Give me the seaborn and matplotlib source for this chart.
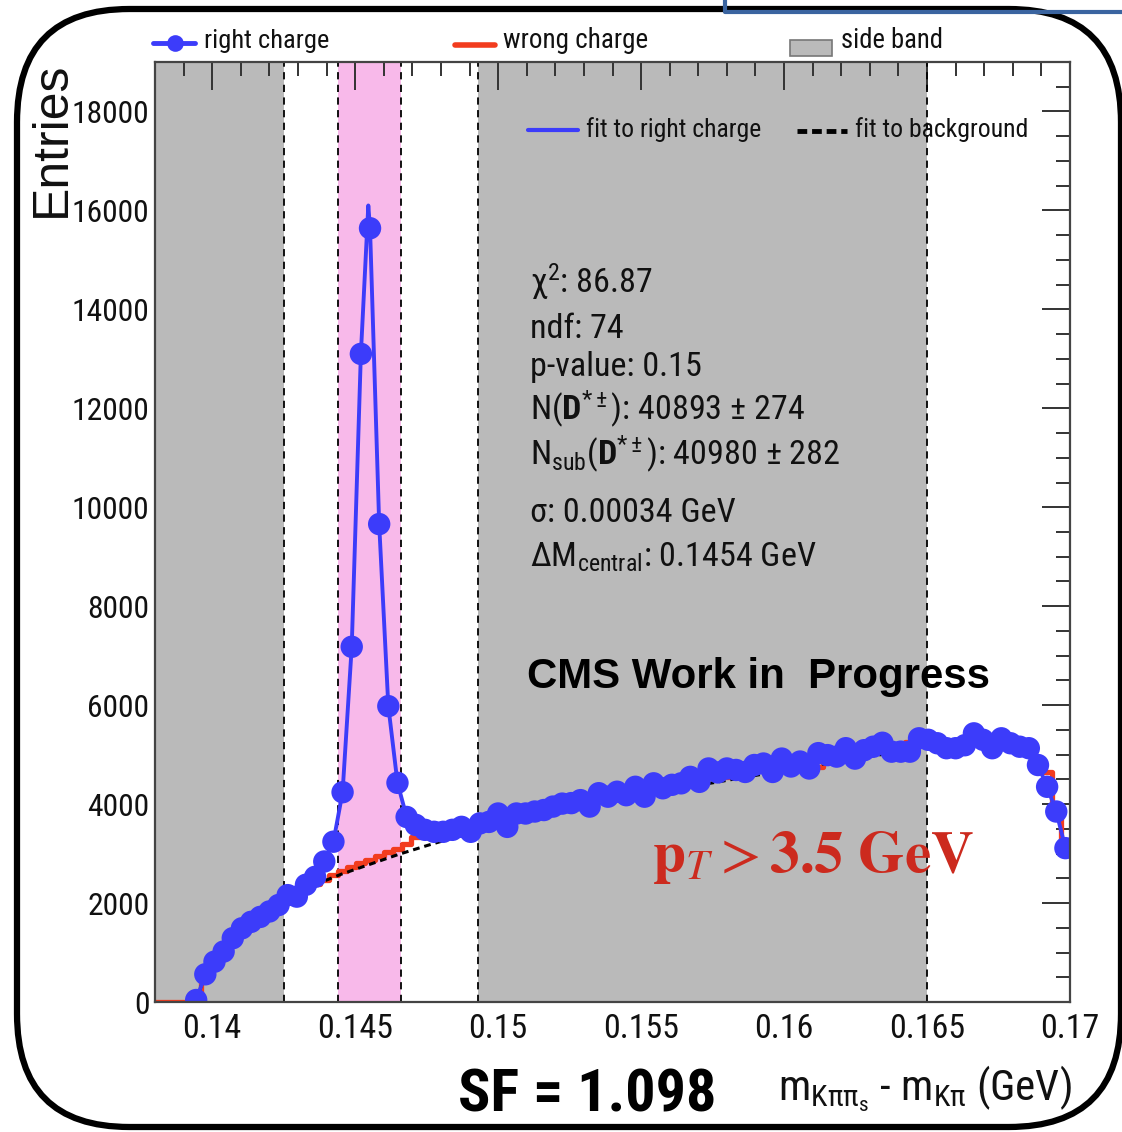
import numpy as np
import pandas as pd
import matplotlib
matplotlib.use("Agg")
import matplotlib.pyplot as plt
import seaborn as sns
from matplotlib import font_manager as fm
from matplotlib.lines import Line2D
from matplotlib.patches import FancyBboxPatch, Rectangle
from matplotlib.ticker import MultipleLocator, FixedLocator

# ---------------- data ----------------
BIN_LO, BIN_HI, N_BINS = 0.138, 0.170, 100
FIRST_BLUE_BIN = 4

right_charge = [40, 560, 815, 1020, 1290, 1490, 1620, 1720, 1830, 1960,
                2160, 2130, 2370, 2530, 2840, 3240, 4240, 7180, 13100, 15640,
                9660, 5980, 4430, 3740, 3580, 3480, 3440, 3440, 3480, 3540,
                3440, 3610, 3640, 3810, 3540, 3810, 3810, 3850, 3880, 3950,
                4010, 4020, 4080, 3950, 4220, 4150, 4250, 4180, 4350, 4150,
                4420, 4320, 4390, 4420, 4550, 4450, 4720, 4640, 4720, 4690,
                4650, 4790, 4820, 4650, 4920, 4760, 4860, 4720, 5030, 4990,
                4960, 5130, 4920, 5090, 5160, 5240, 5060, 5060, 5060, 5330,
                5300, 5230, 5130, 5130, 5190, 5430, 5300, 5130, 5330, 5230,
                5160, 5130, 4790, 4350, 3850, 3110]

wrong_charge = [0, 0, 0, 0, 0, 520, 800, 1050, 1300, 1480,
                1600, 1730, 1840, 1960, 2080, 2150, 2290, 2380, 2470, 2560,
                2650, 2730, 2800, 2870, 2950, 3030, 3100, 3200, 3330, 3400,
                3440, 3480, 3500, 3560, 3500, 3600, 3650, 3760, 3620, 3780,
                3830, 3840, 3900, 3930, 4000, 4030, 4100, 4200, 4200, 4180,
                4240, 4200, 4330, 4250, 4400, 4340, 4380, 4430, 4500, 4560,
                4600, 4650, 4550, 4620, 4680, 4760, 4850, 4700, 4880, 4930,
                4830, 4650, 4750, 4980, 4950, 4900, 4950, 5050, 5150, 5200,
                5100, 5150, 5250, 5300, 5280, 5250, 5230, 5250, 5300, 5280,
                5250, 5200, 5250, 5200, 5150, 5100, 4850, 4650, 3950, 3050]

# fit to background
bkg_fit_x = [0.13950, 0.13960, 0.13980, 0.14000, 0.14030, 0.14070, 0.14120,
             0.14180, 0.14250, 0.14350, 0.14450, 0.14550, 0.14650, 0.14750,
             0.14850, 0.14950, 0.15100, 0.15300, 0.15500, 0.15750, 0.16000,
             0.16250, 0.16450, 0.16600, 0.16750, 0.16850]
bkg_fit_y = [0, 300, 580, 820, 1100, 1380, 1640, 1880, 2100, 2350, 2580,
             2780, 2980, 3160, 3330, 3480, 3700, 3950, 4180, 4430, 4680,
             4920, 5100, 5200, 5230, 5150]

# maximum of the signal fit
peak_fit_x = 0.14546
peak_fit_y = 16100

side_bands = [(0.138, 0.1425), (0.1493, 0.165)]
signal_window = (0.1444, 0.1466)

x_ticks = [0.14, 0.145, 0.15, 0.155, 0.16, 0.165, 0.17]
x_tick_labels = ["0.14", "0.145", "0.15", "0.155", "0.16", "0.165", "0.17"]
y_ticks = [0, 2000, 4000, 6000, 8000, 10000, 12000, 14000, 16000, 18000]
y_tick_labels = ["0", "2000", "4000", "6000", "8000", "10000", "12000",
                 "14000", "16000", "18000"]

stats_lines = [
    "χ$^{2}$: 86.87",
    "ndf: 74",
    "p-value: 0.15",
    r"N($\mathbf{D}^{*\pm}$): 40893 ± 274",
    r"N$_{\mathrm{sub}}$($\mathbf{D}^{*\pm}$): 40980 ± 282",
    "σ: 0.00034 GeV",
    r"ΔM$_{\mathrm{central}}$: 0.1454 GeV",
]

# ---------------- fonts ----------------
sns.set_style("white")
entries = fm.fontManager.ttflist
names = {f.name for f in entries}
REG = "Liberation Sans" if "Liberation Sans" in names else "DejaVu Sans"


def find_condensed():
    prefs = ["Liberation Sans Narrow", "Roboto Condensed", "Open Sans Condensed",
             "Noto Sans Condensed", "Noto Sans", "DejaVu Sans", "Roboto",
             "Open Sans", "Inter", "Lato"]
    cands = []
    for f in entries:
        st = str(f.stretch).lower()
        is_cond = ("condensed" in st or "narrow" in st or "Narrow" in f.name
                   or "Condensed" in f.name)
        if is_cond and f.style == "normal":
            cands.append(f)
    for p in prefs:
        for f in cands:
            if f.name == p:
                return f.name, str(f.stretch)
    if cands:
        return cands[0].name, str(cands[0].stretch)
    return REG, "normal"


NARROW, NSTRETCH = find_condensed()
plt.rcParams["font.family"] = [NARROW, "DejaVu Sans"]
plt.rcParams["font.stretch"] = NSTRETCH
pat = NARROW + (":stretch=" + NSTRETCH if NSTRETCH != "normal" else "")
plt.rcParams["mathtext.fontset"] = "custom"
plt.rcParams["mathtext.rm"] = pat
plt.rcParams["mathtext.it"] = pat + ":italic"
plt.rcParams["mathtext.bf"] = pat + ":bold"
plt.rcParams["mathtext.sf"] = pat

BLUE = "#3c3cfa"
RED = "#f23c1e"
GREY = "#bababa"
PINK = "#f8b9ea"
AXC = "#333333"
TXT = "#111111"

W, H = 1122, 1132
fig = plt.figure(figsize=(W / 100, H / 100), dpi=100)
fig.patch.set_facecolor("white")


def fx(px):
    return px / W


def fy(py):
    return 1 - py / H


ax = fig.add_axes([fx(155), fy(1002), fx(1070) - fx(155), fy(62) - fy(1002)])
ax.set_facecolor("white")

# bands
for lo, hi in side_bands:
    ax.axvspan(lo, hi, color=GREY, lw=0, zorder=0)
ax.axvspan(signal_window[0], signal_window[1], color=PINK, lw=0, zorder=0)
for xv in [side_bands[0][1], signal_window[0], signal_window[1],
           side_bands[1][0], side_bands[1][1]]:
    ax.axvline(xv, color="black", lw=1.3, dashes=(4, 3), zorder=1)

# histogram binning
edges = np.linspace(BIN_LO, BIN_HI, N_BINS + 1)
centers = 0.5 * (edges[:-1] + edges[1:])

# wrong charge histogram (steps)
red_df = pd.DataFrame({"x": edges, "y": wrong_charge + [wrong_charge[-1]]})
sns.lineplot(data=red_df, x="x", y="y", drawstyle="steps-post", color=RED,
             lw=3.8, ax=ax, zorder=3, sort=False, estimator=None)

# background fit
bkg_df = pd.DataFrame({"x": bkg_fit_x, "y": bkg_fit_y})
sns.lineplot(data=bkg_df, x="x", y="y", color="black", lw=2.2,
             linestyle=(0, (2.2, 1.6)), ax=ax, zorder=4, sort=False, estimator=None)

# right charge points
blue_x = centers[FIRST_BLUE_BIN:FIRST_BLUE_BIN + len(right_charge)]
blue_df = pd.DataFrame({"x": blue_x, "y": right_charge})
sns.scatterplot(data=blue_df, x="x", y="y", color=BLUE, s=260, marker="o",
                edgecolor="none", ax=ax, zorder=5)

# signal fit line: through the points, with the fitted maximum
ins = int(np.searchsorted(blue_x, peak_fit_x))
fit_x = list(blue_x[:ins]) + [peak_fit_x] + list(blue_x[ins:])
fit_y = right_charge[:ins] + [peak_fit_y] + right_charge[ins:]
fit_df = pd.DataFrame({"x": fit_x, "y": fit_y})
sns.lineplot(data=fit_df, x="x", y="y", color=BLUE, lw=2.8, ax=ax, zorder=5.5,
             sort=False, estimator=None)

# axes
ax.set_xlim(BIN_LO, BIN_HI)
ax.set_ylim(0, 19000)
ax.set_xlabel("")
ax.set_ylabel("")
ax.xaxis.set_major_locator(FixedLocator(x_ticks))
ax.set_xticklabels(x_tick_labels)
ax.yaxis.set_major_locator(FixedLocator(y_ticks))
ax.set_yticklabels(y_tick_labels)
ax.xaxis.set_minor_locator(MultipleLocator(0.001))
ax.yaxis.set_minor_locator(MultipleLocator(500))
ax.tick_params(which="both", direction="in", top=True, right=True,
               color=AXC, width=1.4)
ax.tick_params(which="major", length=20)
ax.tick_params(which="minor", length=10)
ax.tick_params(axis="x", which="major", pad=8, labelsize=27, labelcolor=TXT)
ax.tick_params(axis="y", which="major", pad=4, labelsize=27, labelcolor=TXT)
for sp in ax.spines.values():
    sp.set_color("#444444")
    sp.set_linewidth(1.6)
    sp.set_zorder(7)

texts = []  # (text, target width px, use height)

t = fig.text(fx(52), fy(62), "Entries", rotation=90, ha="center", va="top",
             fontsize=30, family=[REG, "DejaVu Sans"], stretch="normal", color=TXT)
texts.append((t, 155, True))
t = fig.text(fx(1072), fy(1100),
             r"m$_{\mathrm{K\pi\pi_{s}}}$ - m$_{\mathrm{K\pi}}$ (GeV)",
             ha="right", va="baseline", fontsize=28, color=TXT)
texts.append((t, 294, False))
t = fig.text(fx(458), fy(1112), "SF = 1.098", ha="left", va="baseline",
             fontsize=38, fontweight="bold", color="black")
texts.append((t, 258, False))

stat_baselines = [293, 338, 376, 420, 465, 522, 567]
stat_targets = [122, 93, 178, 278, 310, 218, 287]
stat_texts = []
for txt, by in zip(stats_lines, stat_baselines):
    stat_texts.append(fig.text(fx(530), fy(by), txt, ha="left", va="baseline",
                               fontsize=27, color=TXT))

t = fig.text(fx(527), fy(688), "CMS Work in  Progress", ha="left", va="baseline",
             fontsize=27, fontweight="bold", family=[REG, "DejaVu Sans"],
             stretch="normal", color="black")
texts.append((t, 464, False))
t = fig.text(fx(652), fy(872), r"$\mathbf{p}_{T} > \mathbf{3.5\ GeV}$", ha="left",
             va="baseline", fontsize=34, color="#cc2a1e", math_fontfamily="stix")
texts.append((t, 323, False))

# top legend
fig.add_artist(Line2D([fx(153), fx(195)], [fy(43), fy(43)], color=BLUE, lw=3.5,
                      transform=fig.transFigure))
fig.add_artist(Line2D([fx(175)], [fy(43)], color=BLUE, marker="o", ms=12,
                      mec="none", transform=fig.transFigure))
t = fig.text(fx(204), fy(48), "right charge", fontsize=21, va="baseline", color=TXT)
texts.append((t, 125, False))
fig.add_artist(Line2D([fx(455), fx(495)], [fy(45), fy(45)], color=RED, lw=4,
                      transform=fig.transFigure))
t = fig.text(fx(503), fy(48), "wrong charge", fontsize=21, va="baseline", color=TXT)
texts.append((t, 145, False))
fig.add_artist(Rectangle((fx(790), fy(56)), fx(832) - fx(790), fy(40) - fy(56),
                         facecolor=GREY, edgecolor="#777777", lw=1.2,
                         transform=fig.transFigure))
t = fig.text(fx(841), fy(48), "side band", fontsize=21, va="baseline", color=TXT)
texts.append((t, 102, False))

# inner legend
fig.add_artist(Line2D([fx(528), fx(578)], [fy(130), fy(130)], color=BLUE, lw=3,
                      transform=fig.transFigure, zorder=10))
t = fig.text(fx(586), fy(137), "fit to right charge", fontsize=21, va="baseline",
             color=TXT, zorder=10)
texts.append((t, 176, False))
fig.add_artist(Line2D([fx(797), fx(847)], [fy(131), fy(131)], color="black", lw=3.5,
                      linestyle=(0, (2, 1)), transform=fig.transFigure, zorder=10))
t = fig.text(fx(855), fy(137), "fit to background", fontsize=21, va="baseline",
             color=TXT, zorder=10)
texts.append((t, 174, False))

# rounded frame
frame = FancyBboxPatch((fx(17), fy(1127)), fx(1121) - fx(17), fy(9) - fy(1127),
                       boxstyle="round,pad=0,rounding_size=0.1",
                       transform=fig.transFigure, fill=False, ec="black", lw=4.5,
                       zorder=20)
fig.add_artist(frame)
fig.add_artist(Line2D([fx(725), fx(725), fx(1122)], [fy(0), fy(12), fy(12)],
                      color="#3a64a0", lw=3, transform=fig.transFigure, zorder=21))

# ---- size texts to the widths seen in the reference ----
fig.canvas.draw()
r = fig.canvas.get_renderer()
for t, target, use_h in texts:
    bb = t.get_window_extent(r)
    cur = bb.height if use_h else bb.width
    t.set_fontsize(t.get_fontsize() * target / cur)
# stats block: one common size from the longest line
bb = stat_texts[4].get_window_extent(r)
fs = stat_texts[4].get_fontsize() * stat_targets[4] / bb.width
for st in stat_texts:
    st.set_fontsize(fs)
# tick labels
lab = [l for l in ax.get_yticklabels() if l.get_text() == "18000"][0]
ysz = 27 * 78 / lab.get_window_extent(r).width
labx = [l for l in ax.get_xticklabels() if l.get_text() == "0.145"][0]
xsz = 27 * 76 / labx.get_window_extent(r).width
ax.tick_params(axis="y", which="major", labelsize=ysz)
ax.tick_params(axis="x", which="major", labelsize=xsz)

fig.savefig("out.png", dpi=100, facecolor="white")
